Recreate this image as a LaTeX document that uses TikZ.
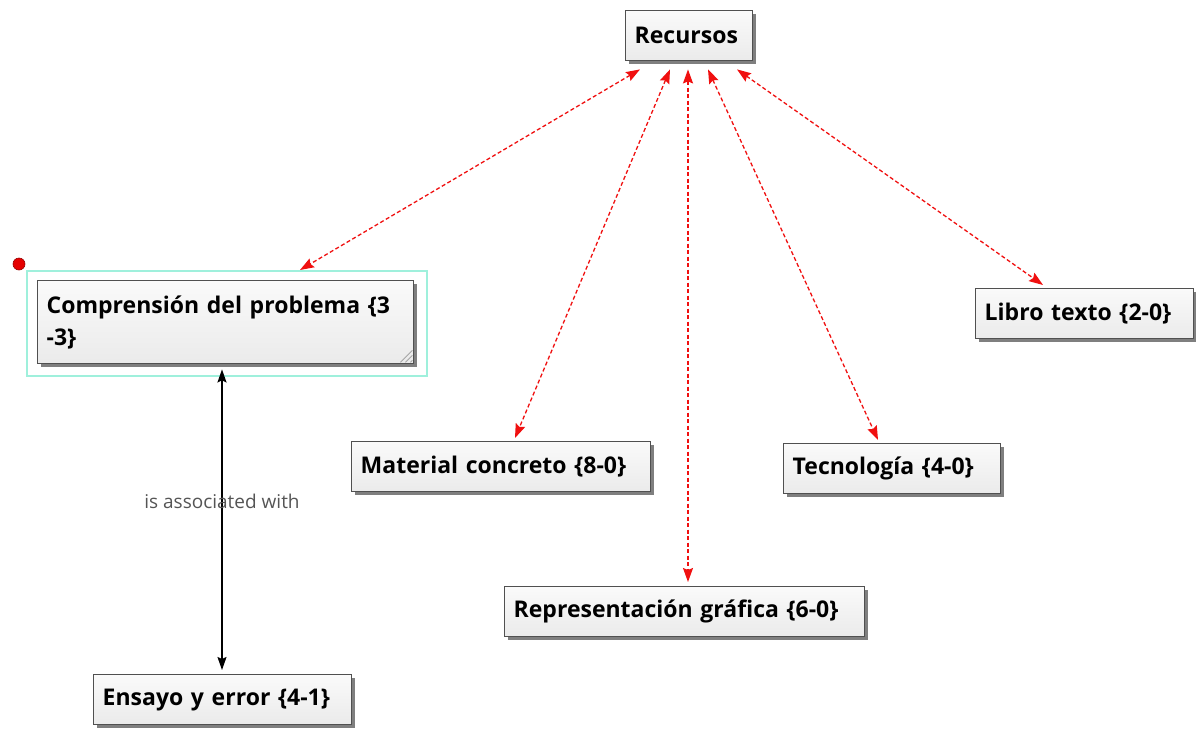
\documentclass[tikz,border=0pt]{standalone}
\usepackage{fontspec}
\setmainfont{Open Sans}
\usetikzlibrary{arrows.meta,shadows,calc}
\definecolor{boxline}{HTML}{505050}
\definecolor{selcol}{HTML}{9FF0DC}
\definecolor{linkred}{HTML}{F01010}
\definecolor{labelgray}{HTML}{555555}
\begin{document}
\begin{tikzpicture}[x=1pt,y=-1pt,
  concept/.style={draw=boxline, line width=1.4pt, top color=gray!4, bottom color=gray!16,
    anchor=north west, align=left, inner xsep=9pt, inner ysep=0pt, minimum height=50pt,
    font=\bfseries\fontsize{23}{32}\selectfont,
    drop shadow={shadow xshift=3pt, shadow yshift=-3pt, fill=black, opacity=0.5}},
  redlink/.style={draw=linkred, line width=1.3pt, dash pattern=on 4pt off 2.5pt,
    {Stealth[length=14pt,width=10pt,inset=2pt]}-{Stealth[length=14pt,width=10pt,inset=2pt]}},
  blacklink/.style={draw=black, line width=1.5pt,
    {Stealth[length=13pt,width=9pt,inset=2pt]}-{Stealth[length=13pt,width=9pt,inset=2pt]}}]
\useasboundingbox (0,0) rectangle (1196,728);
\fill[white] (0,0) rectangle (1196,728);

% selection frame around the highlighted concept
\node[draw=selcol, line width=1.6pt, anchor=north west, minimum width=400pt, minimum height=105pt, inner sep=0pt] (sel) at (26,270) {};
\fill[red!90!black] (19,264) circle (6);
\draw[red!60!black, line width=0.6pt] (19,264) circle (6);

% concepts
\node[concept, text width=127pt-18pt] (rec) at (625,10) {Recursos};
\node[concept, text width=376pt-18pt, minimum height=83pt, inner ysep=6pt, anchor=north west] (comp) at (37,280)
  {Comprensión del problema \{3\\-3\}};
\node[concept, text width=299pt-18pt] (mat) at (351,441) {Material concreto \{8-0\}};
\node[concept, text width=217pt-18pt] (tec) at (783,443) {Tecnología \{4-0\}};
\node[concept, text width=218pt-18pt] (lib) at (975,288) {Libro texto \{2-0\}};
\node[concept, text width=360pt-18pt] (rep) at (504,586) {Representación gráfica \{6-0\}};
\node[concept, text width=258pt-18pt] (ens) at (93,674) {Ensayo y error \{4-1\}};

% resize grip of the selected concept
\foreach \d in {4,9,14}
  \draw[gray!70, line width=0.8pt] ([shift={(-2,-\d)}]comp.south east) -- ([shift={(-\d,-2)}]comp.south east);

% links from Recursos
\draw[redlink] ([shift={(15,8)}]rec.south west) -- ([xshift=274pt]sel.north west);
\draw[redlink] ([shift={(45,8)}]rec.south west) -- ([shift={(164,-3)}]mat.north west);
\draw[redlink] ([shift={(63,8)}]rec.south west) -- ([shift={(184,-4)}]rep.north west);
\draw[redlink] ([shift={(83,8)}]rec.south west) -- ([shift={(95,-3)}]tec.north west);
\draw[redlink] ([shift={(112,8)}]rec.south west) -- ([shift={(68,-3)}]lib.north west);

% association link
\draw[blacklink] ([shift={(185,5)}]comp.south west) -- node[pos=0.44, text=labelgray, font=\fontsize{19}{22}\selectfont] {is associated with} ([shift={(129,-4)}]ens.north west);
\end{tikzpicture}
\end{document}
